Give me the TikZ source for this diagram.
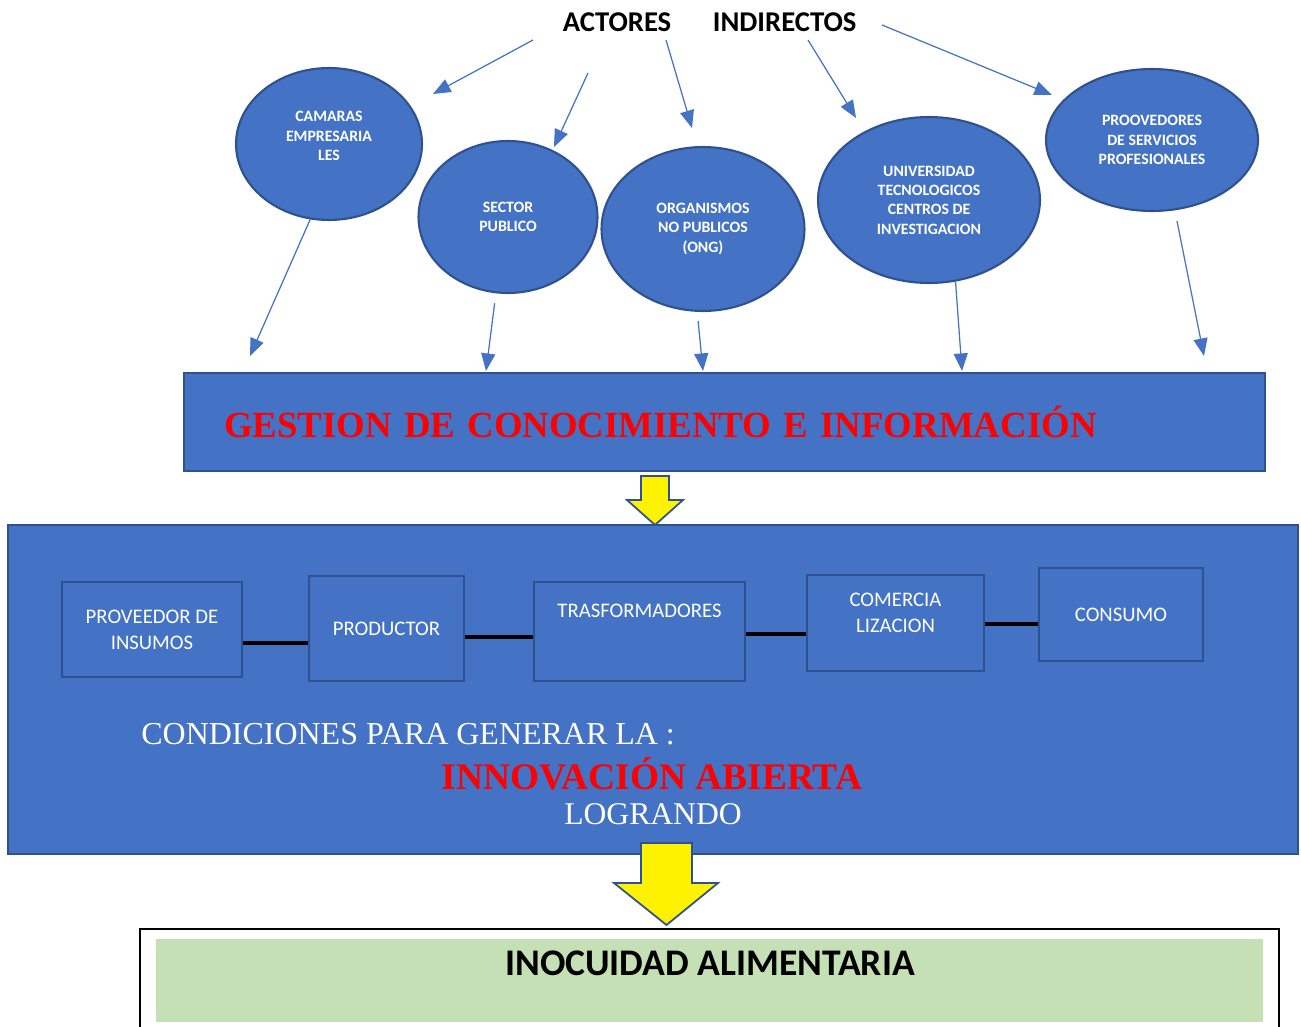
\documentclass[tikz,border=0pt]{standalone}
\usepackage{fontspec}
\setmainfont{Liberation Serif}
\setsansfont{Carlito}
\usetikzlibrary{shapes.geometric, arrows.meta, positioning, calc}
\definecolor{azul}{RGB}{68, 114, 196}
\definecolor{azulborde}{RGB}{47, 82, 143}
\definecolor{verdeclaro}{RGB}{197, 224, 180}

\begin{document}
\begin{tikzpicture}[
  x=0.02cm, y=-0.02cm,
  titulo/.style    = {font=\sffamily\bfseries\fontsize{16.3}{19}\selectfont, inner sep=0pt},
  actor/.style     = {ellipse, draw=azulborde, line width=1.2pt, fill=azul, inner sep=0pt,
                      text=white, align=center,
                      font=\sffamily\bfseries\fontsize{9}{11}\selectfont},
  caja/.style      = {rectangle, draw=azulborde, line width=1.3pt, fill=azul},
  eslabon/.style   = {rectangle, draw=azulborde, line width=1.2pt, fill=azul,
                      text=white, align=center,
                      font=\sffamily\fontsize{11.8}{14.7}\selectfont},
  eslabontxt/.style= {text=white, align=center, inner sep=0pt,
                      font=\sffamily\fontsize{11.8}{14.7}\selectfont},
  flechita/.style  = {-{Triangle[length=10pt, width=8pt]}, draw=azul, line width=0.7pt},
  enlace/.style    = {draw=black, line width=1.8pt},
  bloque/.style    = {fill=yellow, draw=azulborde, line width=1pt, line join=miter},
]
\useasboundingbox (0,0) rectangle (1301,1027);

%% Titulo
\node[titulo] (actores) at (617,22) {ACTORES};
\node[titulo, right=0.82cm of actores] (indirectos) {INDIRECTOS};

%% Actores indirectos
\node[actor, minimum width=3.72cm, minimum height=3.04cm] (cam) at (329,144) {};
\node[actor, fill=none, draw=none] at ([shift={(0,-8)}]cam.center) {CAMARAS\\EMPRESARIA\\LES};
\node[actor, minimum width=3.58cm, minimum height=3.04cm] (sec) at (508,217) {SECTOR\\PUBLICO};
\node[actor, minimum width=4.06cm, minimum height=3.28cm] (ong) at (703,229) {ORGANISMOS\\NO PUBLICOS\\(ONG)};
\node[actor, minimum width=4.44cm, minimum height=3.32cm] (uni) at (929,200) {UNIVERSIDAD\\TECNOLOGICOS\\CENTROS DE\\INVESTIGACION};
\node[actor, minimum width=4.24cm, minimum height=2.84cm] (serv) at (1152,140) {PROOVEDORES\\DE SERVICIOS\\PROFESIONALES};

%% Gestion
\node[caja, minimum width=21.62cm, minimum height=1.96cm, text width=20.02cm,
      inner xsep=0.8cm, align=left, text=red,
      font=\bfseries\fontsize{20.95}{25}\selectfont] (gest) at (724.5,422)
  {GESTION DE CONOCIMIENTO E INFORMACIÓN};

%% Flechas desde el titulo
\coordinate (t1) at (533,40);  \coordinate (h1) at (433,94);
\coordinate (t2) at (588,73);  \coordinate (h2) at (554,147);
\coordinate (t3) at (666,40);  \coordinate (h3) at (692,128);
\coordinate (t4) at (808,40);  \coordinate (h4) at (856,118);
\coordinate (t5) at (882,25);  \coordinate (h5) at (1052,95);
\foreach \a/\b in {t1/h1, t2/h2, t3/h3, t4/h4, t5/h5}
  \draw[flechita] (\a) -- (\b);

%% Flechas hacia la gestion
\coordinate (g1) at (250,356);
\coordinate (g2) at (486,371);
\coordinate (g3) at (703,371);
\coordinate (g4) at (962,371);
\coordinate (g5) at (1204,356);
\draw[flechita] (cam.-104) -- (g1);
\draw[flechita, shorten <=0.2cm] (sec.-99) -- (g2);
\draw[flechita, shorten <=0.18cm] (ong.-94) -- (g3);
\draw[flechita] (uni.-72) -- (g4);
\draw[flechita, shorten <=0.22cm] (serv.-72) -- (g5);

%% Cadena
\node[caja, minimum width=25.8cm, minimum height=6.58cm] (cadena) at (653,689.5) {};

\draw[bloque] (641,476) -- (669,476) -- (669,500) -- (683,500) -- (655,525)
  -- (627,500) -- (641,500) -- cycle;

\node[eslabon, minimum width=3.6cm, minimum height=1.9cm] (pins) at (152,629.5) {PROVEEDOR DE\\INSUMOS};
\node[eslabon, minimum width=3.1cm, minimum height=2.1cm] (prod) at (386.5,628.5) {PRODUCTOR};
\node[eslabon, minimum width=4.22cm, minimum height=1.98cm] (trans) at (639.5,631.5) {};
\node[eslabontxt] at ([shift={(0,30)}]trans.north) {TRASFORMADORES};
\node[eslabon, minimum width=3.54cm, minimum height=1.92cm] (com) at (895.5,623) {};
\node[eslabontxt] at ([shift={(0,-10)}]com.center) {COMERCIA\\LIZACION};
\node[eslabon, minimum width=3.28cm, minimum height=1.86cm] (cons) at (1121,614.5) {CONSUMO};

%% Enlaces
\coordinate (e1) at ([shift={(0,13.5)}]pins.east);
\coordinate (e2) at ([shift={(0,8.5)}]prod.east);
\coordinate (e3) at ([shift={(0,2.5)}]trans.east);
\coordinate (e4) at ([shift={(0,1)}]com.east);
\draw[enlace] (e1) -- (e1 -| prod.west);
\draw[enlace] (e2) -- (e2 -| trans.west);
\draw[enlace] (e3) -- (e3 -| com.west);
\draw[enlace] (e4) -- (e4 -| cons.west);

\node[anchor=west, text=white, inner sep=0pt, font=\fontsize{18.2}{21}\selectfont] (cond) at (141,734)
  {CONDICIONES PARA GENERAR LA :};
\node[text=red, inner sep=0pt, font=\bfseries\fontsize{21.3}{25}\selectfont] (innov) at (652,774)
  {INNOVACIÓN ABIERTA};
\node[text=white, inner sep=0pt, font=\fontsize{18}{21}\selectfont] (logr) at (653,814) {LOGRANDO};

%% Resultado
\node[rectangle, draw=black, line width=0.9pt, fill=white,
      minimum width=22.78cm, minimum height=2.22cm] (marco) at (709.5,984.5) {};
\node[rectangle, fill=verdeclaro, minimum width=22.14cm, minimum height=1.66cm] (inoc) at (709.5,980.5) {};
\node[inner sep=0pt, font=\sffamily\bfseries\fontsize{21.4}{25}\selectfont] at (710,963)
  {INOCUIDAD ALIMENTARIA};

\draw[bloque] (641,843) -- (692,843) -- (692,883) -- (718,883) -- (666.5,925)
  -- (614,883) -- (641,883) -- cycle;

\end{tikzpicture}
\end{document}
